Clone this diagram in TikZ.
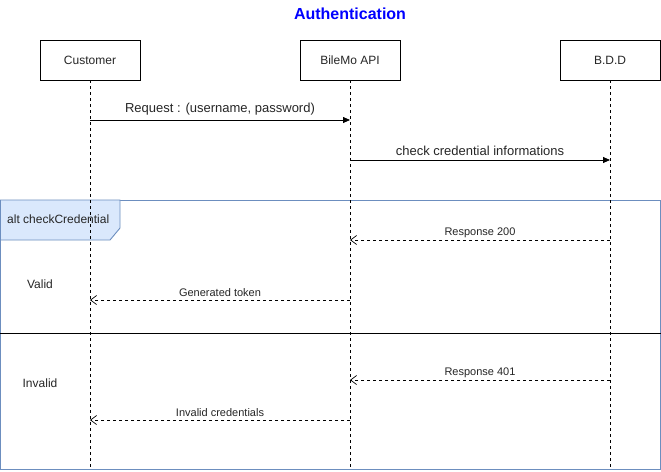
\documentclass[tikz,border=0pt]{standalone}
\usepackage{fontspec}
\setmainfont{Liberation Sans}
\usetikzlibrary{arrows.meta}
\definecolor{frameblue}{HTML}{6C8EBF}
\definecolor{framefill}{HTML}{DAE8FC}
\definecolor{titleblue}{HTML}{0000FF}
\tikzset{
  actor/.style={draw=black, fill=white, line width=0.8pt, minimum width=100pt, minimum height=40pt, inner sep=0pt, font=\fontsize{12}{14}\selectfont, text=black!85},
  life/.style={black, line width=0.8pt, dash pattern=on 3pt off 3pt},
  callmsg/.style={black, line width=0.8pt, -{Triangle[length=7pt,width=6pt]}},
  retmsg/.style={black, line width=0.8pt, dash pattern=on 3pt off 3pt, -{Straight Barb[length=6pt,width=9pt,line width=0.7pt]}},
  biglabel/.style={font=\fontsize{13}{15}\selectfont, text=black!85, inner sep=1pt},
  smalllabel/.style={font=\fontsize{11}{13}\selectfont, text=black!85, inner sep=1pt},
  guard/.style={font=\fontsize{12}{14}\selectfont, text=black!85, inner sep=1pt},
}
\begin{document}
\begin{tikzpicture}[x=1pt,y=-1pt]
\useasboundingbox (0,0) rectangle (661,471);
\fill[white] (0,0) rectangle (661,471);
% title
\node[font=\fontsize{16}{18}\selectfont\bfseries, text=titleblue] (title) at (350,14) {Authentication};
% alt frame
\draw[frameblue, line width=0.9pt] (0.5,200) rectangle (660.5,469);
\draw[frameblue, line width=0.9pt, fill=framefill] (0.5,200) -- (120,200) -- (120,228) -- (110,240) -- (0.5,240) -- cycle;
\node[guard, anchor=west] (altlbl) at (6,219) {alt checkCredential};
\draw[black, line width=0.8pt] (0,333) -- (661,333);
% actors
\node[actor] (cust) at (90,60) {Customer};
\node[actor] (api) at (350,60) {BileMo API};
\node[actor] (bdd) at (610,60) {B.D.D};
% lifeline ends
\coordinate (custend) at (90,469);
\coordinate (apiend) at (350,469);
\coordinate (bddend) at (610,469);
\draw[life] (cust.south) -- (custend);
\draw[life] (api.south) -- (apiend);
\draw[life] (bdd.south) -- (bddend);
% message points
\coordinate (c1) at (90,120); \coordinate (a1) at (350,120);
\coordinate (a2) at (350,160); \coordinate (b2) at (610,160);
\coordinate (b3) at (610,240); \coordinate (a3) at (350,240);
\coordinate (a4) at (350,300); \coordinate (c4) at (90,300);
\coordinate (b5) at (610,380); \coordinate (a5) at (350,380);
\coordinate (a6) at (350,420); \coordinate (c6) at (90,420);
\draw[callmsg] (c1) -- node[biglabel, above=3pt] (l1) {Request : (username, password)} (a1);
\draw[callmsg] (a2) -- node[biglabel, above=3pt] (l2) {check credential informations} (b2);
\draw[retmsg] (b3) -- node[smalllabel, above=1pt] (l3) {Response 200} (a3);
\draw[retmsg] (a4) -- node[smalllabel, above=2pt] (l4) {Generated token} (c4);
\draw[retmsg] (b5) -- node[smalllabel, above=1pt] (l5) {Response 401} (a5);
\draw[retmsg] (a6) -- node[smalllabel, above=2pt] (l6) {Invalid credentials} (c6);
% guards
\node[guard] (valid) at (40,284) {Valid};
\node[guard] (invalid) at (40,383) {Invalid};
\end{tikzpicture}
\end{document}
